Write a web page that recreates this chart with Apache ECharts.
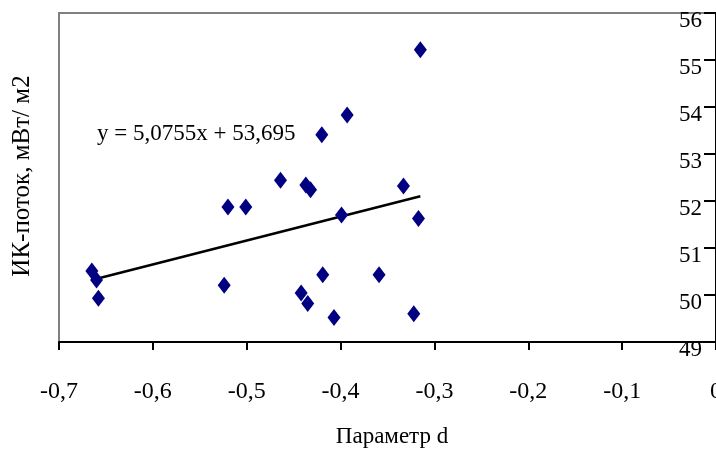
<!DOCTYPE html>
<html>
<head>
<meta charset="utf-8">
<script src="https://cdn.jsdelivr.net/npm/echarts@6/dist/echarts.min.js"></script>
<style>html,body{margin:0;padding:0;background:#fff;}#c{width:716px;height:453px;}</style>
</head>
<body>
<div id="c"></div>
<script>
// Parameter d values (x)
const paramD = [-0.665, -0.660, -0.658, -0.524, -0.520, -0.501, -0.464, -0.437, -0.432, -0.399,
                -0.419, -0.359, -0.442, -0.435, -0.407, -0.322, -0.315, -0.393, -0.420, -0.333, -0.317];
// IR flux values (y), mW/m2
const irFlux = [50.51, 50.32, 49.93, 50.21, 51.87, 51.87, 52.44, 52.34, 52.24, 51.70,
                50.43, 50.43, 50.04, 49.82, 49.52, 49.60, 55.22, 53.83, 53.41, 52.32, 51.63];
// Trend line end points
const trendX = [-0.665, -0.315];
const trendY = [50.32, 52.10];
const equationText = 'y = 5,0755x + 53,695';
const xTitle = 'Параметр d';
const yTitle = 'ИК-поток, мВт/ м2';

const font = '"Liberation Serif", "Times New Roman", serif';
const chart = echarts.init(document.getElementById('c'));
chart.setOption({
  animation: false,
  grid: { left: 59, right: 0, top: 13, bottom: 111, outerBoundsMode: 'none', containLabel: false,
          show: true, borderColor: '#808080', borderWidth: 2, backgroundColor: 'transparent' },
  xAxis: {
    type: 'value', min: -0.7, max: 0, interval: 0.1,
    axisLine: { show: true, onZero: false, lineStyle: { color: '#000', width: 2 } },
    axisTick: { show: true, length: 8, lineStyle: { color: '#000', width: 2 } },
    splitLine: { show: false },
    axisLabel: { margin: 38, color: '#000', fontFamily: font, fontSize: 24, hideOverlap: false,
      formatter: v => (Math.round(v * 10) / 10).toString().replace('.', ',') , showMaxLabel: true }
  },
  yAxis: {
    type: 'value', position: 'right', min: 49, max: 56, interval: 1,
    axisLine: { show: true, onZero: false, lineStyle: { color: '#000', width: 2 } },
    axisTick: { show: true, inside: true, length: 12, lineStyle: { color: '#000', width: 2 } },
    splitLine: { show: false },
    axisLabel: { inside: true, margin: 14, color: '#000', fontFamily: font, fontSize: 23,
                 verticalAlign: 'top', lineHeight: 16, hideOverlap: false }
  },
  graphic: [
    { type: 'text', left: 97, top: 122, style: { text: equationText, font: '23px ' + font, fill: '#000' } },
    { type: 'text', x: 392, y: 437, style: { text: xTitle, font: '23px ' + font, fill: '#000', align: 'center', verticalAlign: 'middle' } },
    { type: 'text', x: 22, y: 176, rotation: Math.PI / 2, style: { text: yTitle, font: '25px ' + font, fill: '#000', align: 'center', verticalAlign: 'middle' } }
  ],
  series: [
    {
      type: 'line', data: trendX.map((x, i) => [x, trendY[i]]), symbol: 'none',
      lineStyle: { color: '#000', width: 2.5 }, z: 2
    },
    {
      type: 'scatter', data: paramD.map((x, i) => [x, irFlux[i]]),
      symbol: 'diamond', symbolSize: [13, 17], itemStyle: { color: '#000080', opacity: 1 }, z: 3
    }
  ]
});
</script>
</body>
</html>
